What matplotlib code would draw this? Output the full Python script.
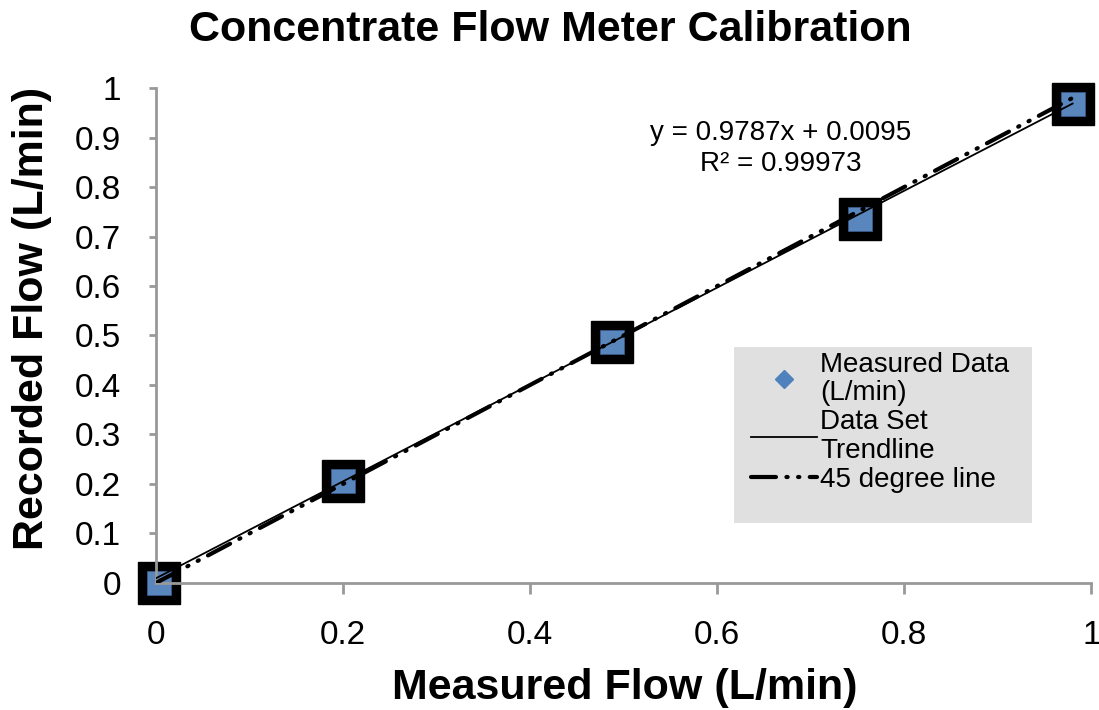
import numpy as np
import matplotlib
matplotlib.use("Agg")
import matplotlib.pyplot as plt
from matplotlib.lines import Line2D
from matplotlib.patches import Rectangle

plt.rcParams['font.family'] = ['Liberation Sans', 'DejaVu Sans']

# measured vs recorded flow (L/min)
measured = [0.003, 0.200, 0.487, 0.753, 0.980]
recorded = [0.000, 0.206, 0.487, 0.735, 0.968]

slope = 0.9787
intercept = 0.0095
r2 = 0.99973

ticks = [0, 0.2, 0.4, 0.6, 0.8, 1]
yticks = [0, 0.1, 0.2, 0.3, 0.4, 0.5, 0.6, 0.7, 0.8, 0.9, 1]

fig = plt.figure(figsize=(10.99, 7.10), dpi=100)
ax = fig.add_axes([0.142, 0.179, 0.851, 0.697])

xs = np.array([0, max(measured)])
dash = [6, 2.5, 0.3, 2.5, 0.3, 2.5]
# trendline
ax.plot(xs, slope * xs + intercept, color='black', lw=1.3, zorder=3)
# 45 degree line
ax.plot(xs, xs, color='black', lw=3, dashes=dash, dash_capstyle='round', zorder=3)

# markers: black square with blue centre
ax.plot(measured, recorded, 's', color='black', ms=30, zorder=2, clip_on=False)
ax.plot(measured, recorded, 's', color='#5a86be', ms=17, mec='#3c5f93', mew=0.5,
        zorder=2, clip_on=False)

ax.set_xlim(0, 1)
ax.set_ylim(0, 1)
ax.set_xticks(ticks)
ax.set_xticklabels(['0', '0.2', '0.4', '0.6', '0.8', '1'])
ax.set_yticks(yticks)
ax.set_yticklabels(['0', '0.1', '0.2', '0.3', '0.4', '0.5', '0.6', '0.7', '0.8', '0.9', '1'])
ax.tick_params(axis='x', labelsize=24, length=8, width=2, color='#999999', pad=19)
ax.tick_params(axis='y', labelsize=24, length=5, width=2, color='#999999', pad=20)
for s in ['top', 'right']:
    ax.spines[s].set_visible(False)
for s in ['left', 'bottom']:
    ax.spines[s].set_color('#999999')
    ax.spines[s].set_linewidth(2)

fig.text(625 / 1099, 1 - 688 / 710, 'Measured Flow (L/min)', ha='center', va='center',
         fontsize=31, fontweight='bold')
fig.text(32 / 1099, 1 - 318 / 710, 'Recorded Flow (L/min)', ha='center', va='center',
         rotation=90, fontsize=31, fontweight='bold')
fig.text(0.501, 1 - 30 / 710, 'Concentrate Flow Meter Calibration', ha='center', va='center',
         fontsize=31, fontweight='bold')

ax.text(0.668, 0.877, 'y = %.4fx + %.4f\nR² = %.5f' % (slope, intercept, r2),
        ha='center', va='center', fontsize=20, linespacing=1.25)

# legend background
ax.add_patch(Rectangle((0.618, 0.121), 0.319, 0.356, transform=ax.transAxes,
                       facecolor='#e0e0e0', edgecolor='none', zorder=4))
handles = [
    Line2D([], [], marker='D', ls='none', color='#4f81bd', ms=9),
    Line2D([], [], color='black', lw=1.3),
    Line2D([], [], color='black', lw=3, dashes=dash, dash_capstyle='round'),
]
leg = ax.legend(handles, ['Measured Data\n(L/min)', 'Data Set\nTrendline', '45 degree line'],
                loc='upper left', bbox_to_anchor=(0.624, 0.49), frameon=False,
                fontsize=20, handlelength=2.4, handletextpad=0.1, labelspacing=0.12,
                borderaxespad=0)
leg.set_zorder(5)
for t in leg.get_texts():
    t.set_linespacing(1.12)

fig.savefig('out.png', dpi=100)
